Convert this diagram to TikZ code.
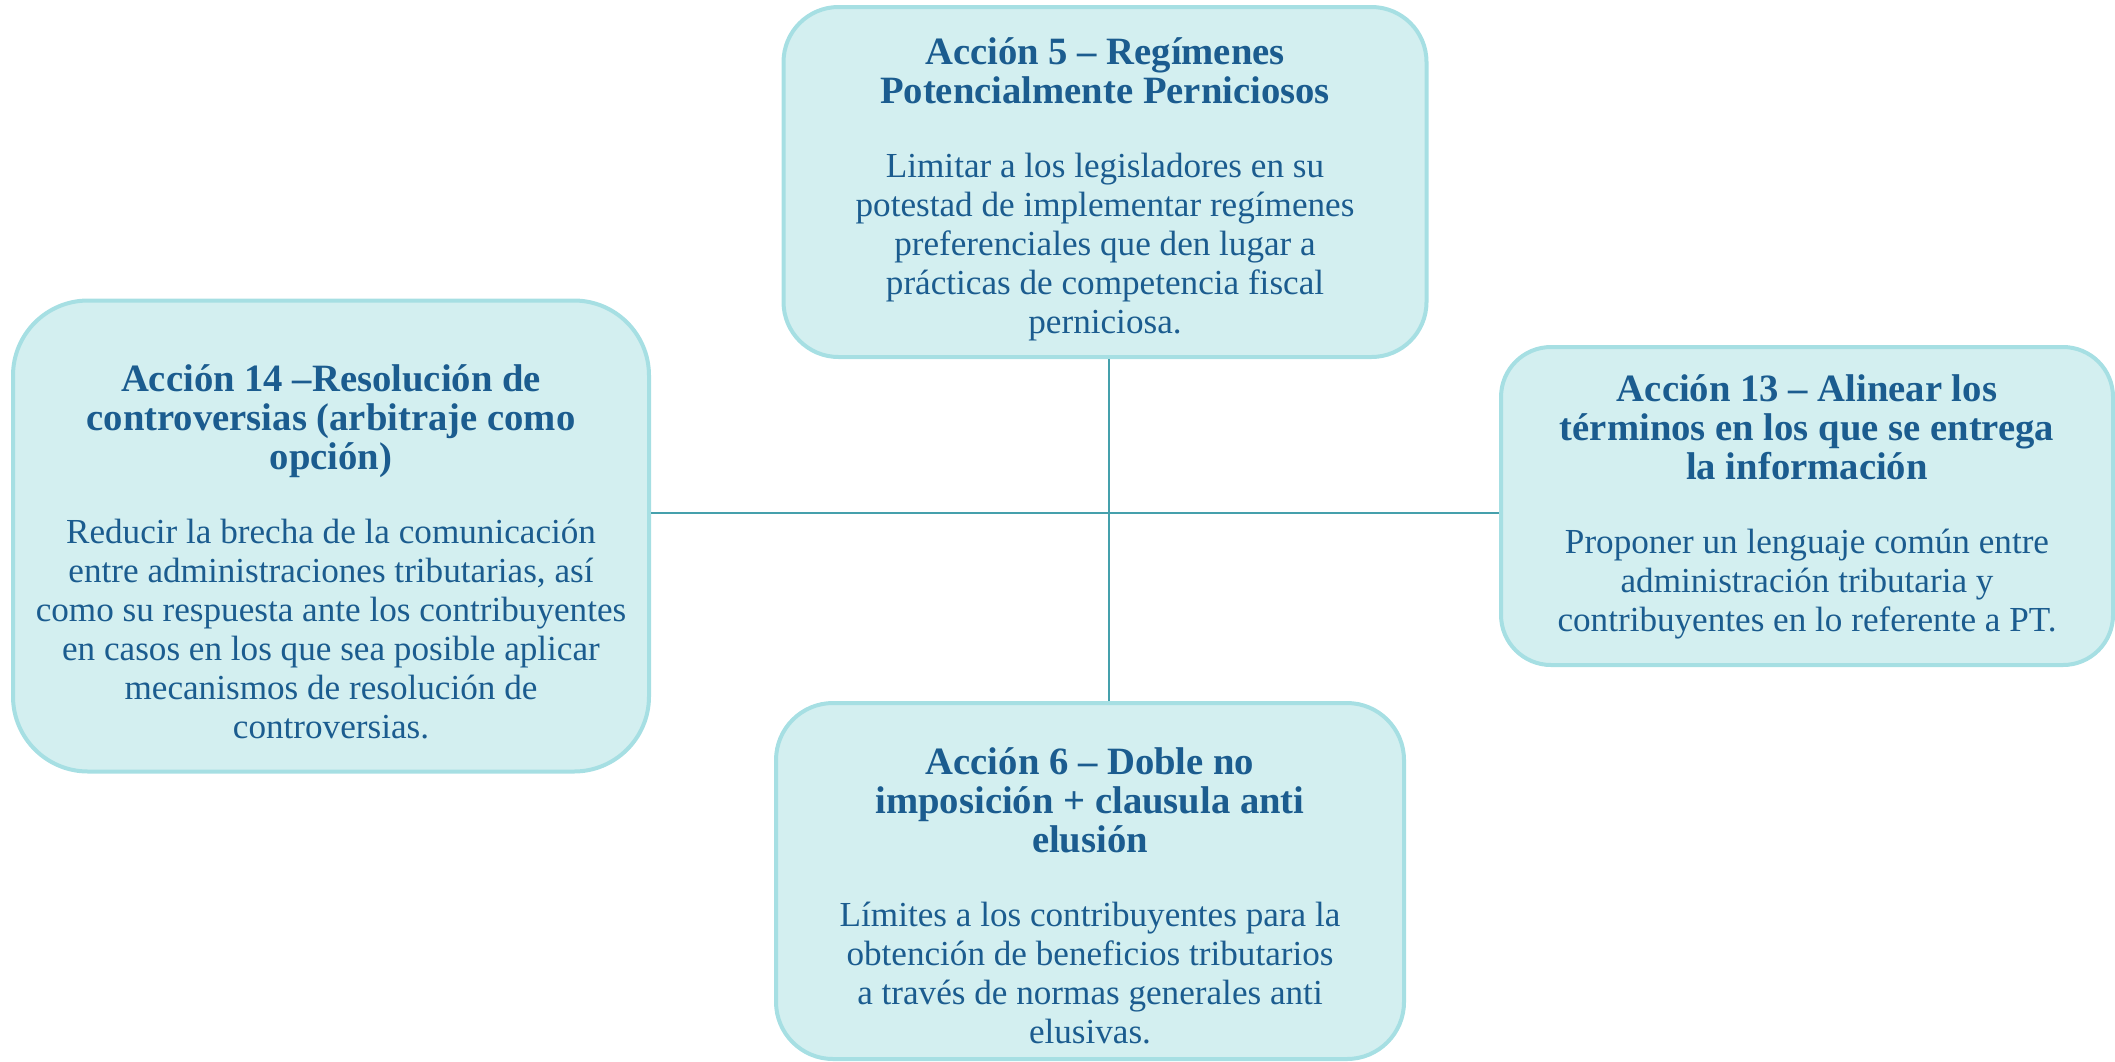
\documentclass[tikz,border=0pt]{standalone}
\usepackage{fontspec}
\setmainfont{Liberation Serif}
\usetikzlibrary{positioning,calc}
\definecolor{boxfill}{HTML}{D3EFF0}
\definecolor{boxline}{HTML}{A6DFE3}
\definecolor{txtblue}{HTML}{1B5C8F}
\definecolor{linkline}{HTML}{45A0AC}
\newcommand{\acctitle}[1]{{\fontsize{11}{11.1}\selectfont\bfseries #1}}

\begin{document}
\begin{tikzpicture}[x=0.1mm, y=-0.1mm,
  accbox/.style={draw=boxline, fill=boxfill, line width=0.4mm, rounded corners=5.5mm, inner sep=0pt},
  acctext/.style={align=center, text=txtblue, font=\fontsize{10}{11.1}\selectfont, inner sep=0pt},
  link/.style={draw=linkline, line width=0.2mm}]
\useasboundingbox (0,0) rectangle (2115,1061);

% Acción 5
\node[accbox, minimum width=64.3mm, minimum height=35mm] (accion5) at (1105,182) {};
\node[acctext] (accion5txt) at (1105,189) {
\acctitle{Acción 5 – Regímenes}\\
\acctitle{Potencialmente Perniciosos}\\[10pt]
Limitar a los legisladores en su\\
potestad de implementar regímenes\\
preferenciales que den lugar a\\
prácticas de competencia fiscal\\
perniciosa.
};

% Acción 14
\node[accbox, rounded corners=7.5mm, minimum width=63.6mm, minimum height=47.1mm] (accion14) at (331,536) {};
\node[acctext] (accion14txt) at (331,552) {
\acctitle{Acción 14 –Resolución de}\\
\acctitle{controversias (arbitraje como}\\
\acctitle{opción)}\\[10pt]
Reducir la brecha de la comunicación\\
entre administraciones tributarias, así\\
como su respuesta ante los contribuyentes\\
en casos en los que sea posible aplicar\\
mecanismos de resolución de\\
controversias.
};

% Acción 13
\node[accbox, rounded corners=5mm, minimum width=61.2mm, minimum height=31.8mm] (accion13) at (1807,506) {};
\node[acctext] (accion13txt) at (1807,507) {
\acctitle{Acción 13 – Alinear los}\\
\acctitle{términos en los que se entrega}\\
\acctitle{la información}\\[10pt]
Proponer un lenguaje común entre\\
administración tributaria y\\
contribuyentes en lo referente a PT.
};

% Acción 6
\node[accbox, rounded corners=5.7mm, minimum width=62.8mm, minimum height=35.6mm] (accion6) at (1090,881) {};
\node[acctext] (accion6txt) at (1090,896) {
\acctitle{Acción 6 – Doble no}\\
\acctitle{imposición + clausula anti}\\
\acctitle{elusión}\\[10pt]
Límites a los contribuyentes para la\\
obtención de beneficios tributarios\\
a través de normas generales anti\\
elusivas.
};

% conexiones
\coordinate (hub) at (1109,513);
\draw[link] (accion14.east |- hub) -- (accion13.west |- hub);
\draw[link] (hub |- accion5.south) -- (hub |- accion6.north);
\end{tikzpicture}
\end{document}
